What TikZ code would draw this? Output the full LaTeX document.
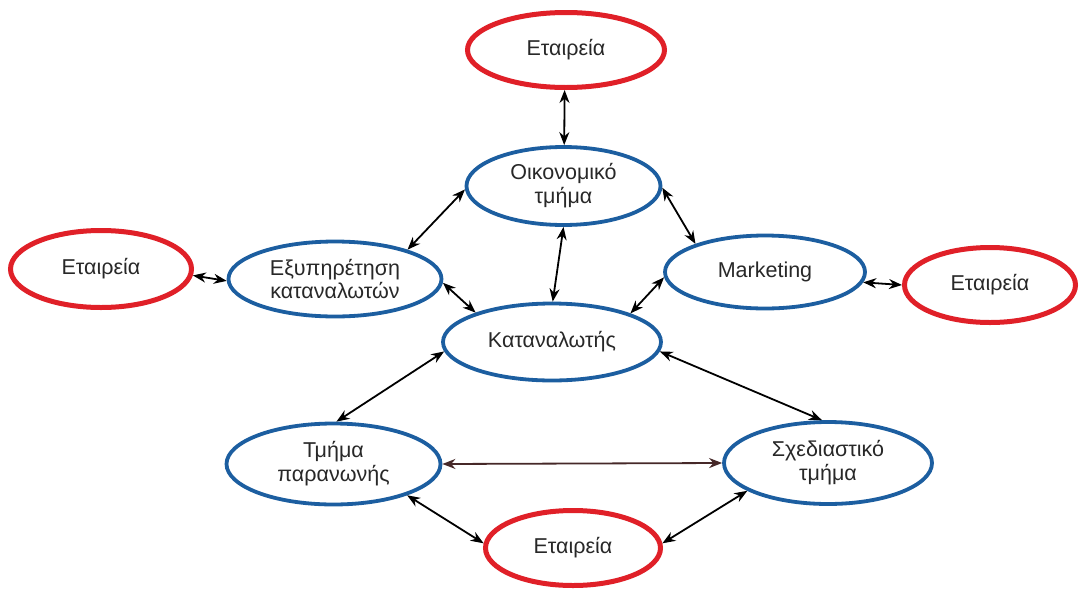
\documentclass[tikz,border=0pt]{standalone}
\usepackage{fontspec}
\setmainfont{Liberation Sans}
\usetikzlibrary{shapes.geometric,arrows.meta}
\definecolor{deptblue}{RGB}{28,94,160}
\definecolor{firmred}{RGB}{224,32,40}
\definecolor{labelgray}{RGB}{40,40,40}
\definecolor{linkdark}{RGB}{70,40,40}
\tikzset{
  dept/.style={ellipse, draw=deptblue, line width=3.8pt, fill=white, inner sep=0pt,
    text=labelgray, align=center, font=\fontsize{21.5}{24}\selectfont},
  firm/.style={dept, draw=firmred, line width=5pt},
  link/.style={<->, line width=1.8pt, draw=black, >={Stealth[length=13pt,width=10pt]}},
}
\begin{document}
\begin{tikzpicture}[x=1pt,y=-1pt]
\fill[white] (0,0) rectangle (1087,592);
\useasboundingbox (0,0) rectangle (1087,592);

% departments
\node[dept, minimum width=194pt, minimum height=78pt] (oik) at (563.5,186) {Οικονομικό\\τμήμα};
\node[dept, minimum width=213pt, minimum height=75pt] (exy) at (335,279) {Εξυπηρέτηση\\καταναλωτών};
\node[dept, minimum width=200pt, minimum height=73pt] (mkt) at (765,272) {Marketing};
\node[dept, minimum width=218pt, minimum height=77pt] (kat) at (552,342) {Καταναλωτής};
\node[dept, minimum width=214pt, minimum height=81pt] (tmp) at (333.5,464) {Τμήμα\\παρανωνής};
\node[dept, minimum width=208pt, minimum height=82pt] (sxe) at (828,463) {Σχεδιαστικό\\τμήμα};

% companies
\node[firm, minimum width=197pt, minimum height=75pt] (etop) at (566,50) {Εταιρεία};
\node[firm, minimum width=181pt, minimum height=77pt] (etl) at (101,269) {Εταιρεία};
\node[firm, minimum width=171pt, minimum height=75pt] (etr) at (990,285) {Εταιρεία};
\node[firm, minimum width=175pt, minimum height=75pt] (ebot) at (573,548) {Εταιρεία};

% connectors
\draw[link] (etop.268) -- (oik.89);
\draw[link] (oik.182) -- (exy.22);
\draw[link] (oik.359) -- (mkt.158);
\draw[link] (oik.270) -- (kat.89);
\draw[link] (exy.358) -- (kat.159);
\draw[link] (mkt.183) -- (kat.20);
\draw[link] (etl.356) -- (exy.181);
\draw[link] (mkt.354) -- (etr.180);
\draw[link] (kat.185) -- (tmp.86);
\draw[link] (kat.355) -- (sxe.98);
\draw[link, draw=linkdark] (tmp.0) -- (sxe.180);
\draw[link] (tmp.337) -- (ebot.177);
\draw[link] (sxe.199) -- (ebot.3);
\end{tikzpicture}
\end{document}
